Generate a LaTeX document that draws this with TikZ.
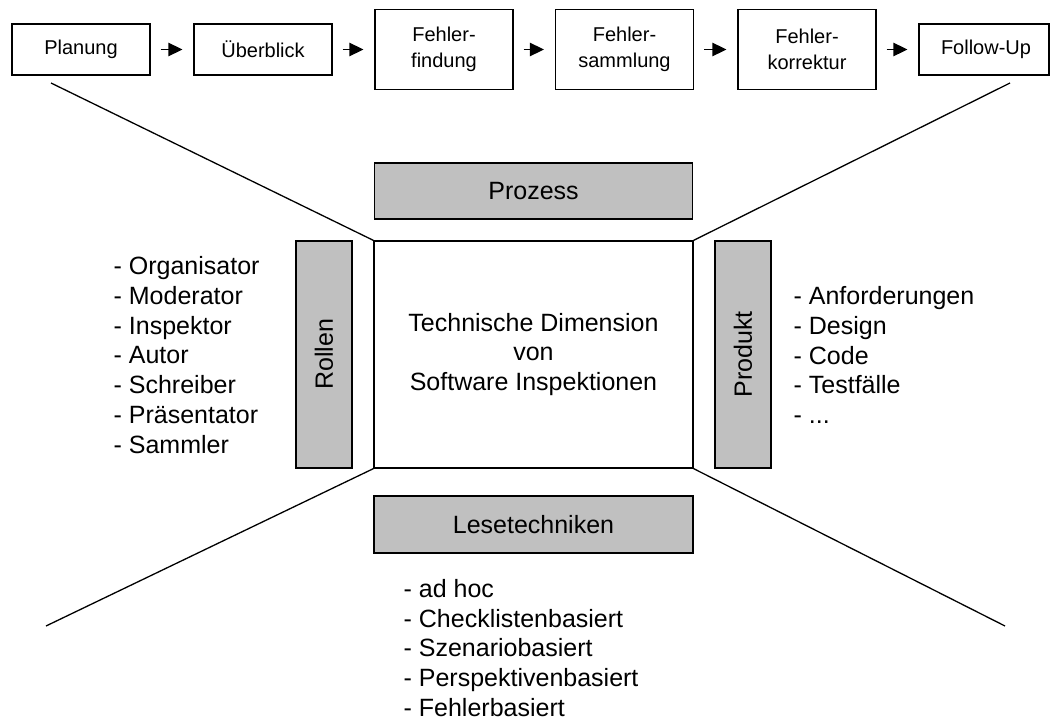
\documentclass[tikz,border=0pt]{standalone}
\usepackage{fontspec}
\setmainfont{Liberation Sans}
\usetikzlibrary{arrows.meta}
\definecolor{dimgray}{RGB}{192,192,192}
\begin{document}
\begin{tikzpicture}[x=1pt,y=-1pt,
  line width=1.3pt,
  phase/.style={draw, minimum width=138pt, inner sep=0pt, align=center,
    font=\fontsize{20}{26}\selectfont},
  flow/.style={-{Triangle[length=14pt,width=13.5pt]}, line width=1.3pt,
    shorten <=10pt, shorten >=11pt},
  dimbox/.style={draw, fill=dimgray, inner sep=0pt, align=center,
    font=\fontsize{25}{30}\selectfont},
  core/.style={draw, fill=white, minimum width=319pt, minimum height=227pt,
    inner sep=0pt, align=center, font=\fontsize{25}{29.5}\selectfont},
  itemlist/.style={anchor=west, inner sep=0pt, align=left,
    font=\fontsize{25}{29.7}\selectfont},
  ray/.style={line width=1.3pt}]
\useasboundingbox (0,0) rectangle (1050,720);

% process phases
\node[phase, minimum height=51pt]   (plan)  at (81,49.5)    {Planung};
\node[phase, minimum height=51pt]   (ueber) at (263,49.5)   {Überblick};
\node[phase, minimum height=79.5pt] (find)  at (444,49.5)   {Fehler-\\findung};
\node[phase, minimum height=79.5pt] (samm)  at (624.5,49.5) {Fehler-\\sammlung};
\node[phase, minimum height=79.5pt] (korr)  at (807,49.5)   {Fehler-\\korrektur};
\node[phase, minimum height=51pt, minimum width=130pt] (follow) at (984,49.5) {\hspace*{4pt}Follow-Up};

\draw[flow] (plan) -- (ueber);
\draw[flow] (ueber) -- (find);
\draw[flow] (find) -- (samm);
\draw[flow] (samm) -- (korr);
\draw[flow] (korr) -- (follow);

% rays from the corners of the central box
\coordinate (rtl) at (51,83);
\coordinate (rtr) at (1010,83);
\coordinate (rbl) at (46,626);
\coordinate (rbr) at (1005,626);

\node[core] (tech) at (533.5,354.5) {Technische Dimension\\von\\Software Inspektionen};

\draw[ray] (rtl) -- (tech.north west);
\draw[ray] (rtr) -- (tech.north east);
\draw[ray] (rbl) -- (tech.south west);
\draw[ray] (rbr) -- (tech.south east);

% the four dimensions
\node[dimbox, minimum width=318pt, minimum height=56pt] (proz) at (533.5,191) {Prozess};
\node[dimbox, minimum width=319pt, minimum height=57pt] (lese) at (533.5,524.5) {Lesetechniken};
\node[dimbox, minimum width=56pt, minimum height=227pt] (rollen) at (324,354.5) {\rotatebox{90}{Rollen}};
\node[dimbox, minimum width=56pt, minimum height=227pt] (produkt) at (743,354.5) {\rotatebox{90}{Produkt}};

% item lists
\node[itemlist] (rlist) at (113,355) {- Organisator\\- Moderator\\- Inspektor\\- Autor\\- Schreiber\\- Präsentator\\- Sammler};
\node[itemlist] (plist) at (793,355) {- Anforderungen\\- Design\\- Code\\- Testfälle\\- ...};
\node[itemlist] (llist) at (403,648) {- ad hoc\\- Checklistenbasiert\\- Szenariobasiert\\- Perspektivenbasiert\\- Fehlerbasiert};
\end{tikzpicture}
\end{document}
